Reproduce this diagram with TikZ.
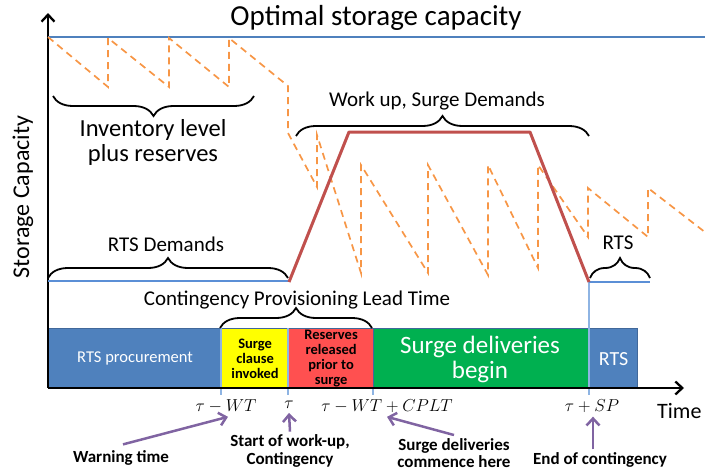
\documentclass[tikz,border=0pt]{standalone}
\usepackage{fontspec}
\setmainfont{Carlito}
\usetikzlibrary{decorations.pathreplacing,arrows.meta}
\definecolor{optblue}{HTML}{4F81BD}
\definecolor{rtsblue}{HTML}{5B8FD6}
\definecolor{tickblue}{HTML}{8EB4E3}
\definecolor{orng}{HTML}{F79646}
\definecolor{redline}{HTML}{C0504D}
\definecolor{purp}{HTML}{8064A2}
\definecolor{barblue}{HTML}{4F81BD}
\definecolor{barborder}{HTML}{41689A}
\definecolor{yel}{HTML}{FFFF00}
\definecolor{redbox}{HTML}{FF5050}
\definecolor{grn}{HTML}{00B050}
\begin{document}
\begin{tikzpicture}[x=1pt,y=-1pt,
  bigtxt/.style={font=\fontsize{21}{25}\selectfont, inner sep=0pt, align=center},
  boxtxt/.style={font=\bfseries\fontsize{14.5}{15}\selectfont, inner sep=0pt, align=center},
  botlbl/.style={font=\bfseries\fontsize{17}{17.5}\selectfont, inner sep=0pt, align=center},
  mathlbl/.style={font=\fontsize{18}{20}\selectfont, inner sep=0pt},
  barbox/.style={draw=barborder, line width=1.2pt, anchor=north west, minimum height=60pt, inner sep=0pt},
  bracestyle/.style={decorate, decoration={brace, amplitude=20pt}, line width=1.8pt},
  orangedash/.style={orng, line width=1.7pt, dash pattern=on 7pt off 5pt},
  purparrow/.style={purp, line width=2.5pt, -{Straight Barb[length=7pt,width=13pt]}},
  tickline/.style={tickblue, line width=1.8pt},
  axisline/.style={line width=2.3pt, -{Straight Barb[length=7pt,width=13pt]}}
]
\useasboundingbox (0,0) rectangle (705,471);

% bar
\node[barbox, fill=barblue, minimum width=173pt] (proc) at (48,328) {};
\node[barbox, fill=yel, minimum width=67pt] (surgecl) at (221,328) {};
\node[barbox, fill=redbox, minimum width=85pt] (resv) at (288,328) {};
\node[barbox, fill=grn, minimum width=216pt] (deliv) at (373,328) {};
\node[barbox, fill=barblue, minimum width=48pt] (rtsbox) at (589,328) {};
\node[white, font=\fontsize{16.5}{19}\selectfont, inner sep=0pt] (proct) at (proc.center) {RTS procurement};
\node[boxtxt] (surget) at (surgecl.center) {Surge\\clause\\invoked};
\node[boxtxt] (resvt) at (resv.center) {Reserves\\released\\prior to\\surge};
\node[white, font=\fontsize{25}{25}\selectfont, inner sep=0pt, align=center] (delivt) at (480,359) {Surge deliveries\\begin};
\node[white, font=\fontsize{20}{22}\selectfont, inner sep=0pt] (rtsboxt) at (rtsbox.center) {RTS};

% ticks
\coordinate (k1a) at (221,328); \coordinate (k1b) at (221,395);
\coordinate (k2a) at (288,328); \coordinate (k2b) at (288,395);
\coordinate (k3a) at (373,388); \coordinate (k3b) at (373,395);
\coordinate (k4a) at (589,282); \coordinate (k4b) at (589,395);
\draw[tickline] (k1a) -- (k1b);
\draw[tickline] (k2a) -- (k2b);
\draw[tickline] (k3a) -- (k3b);
\draw[tickblue, line width=1.2pt] (k4a) -- (k4b);

% axes
\coordinate (org) at (48,388);
\coordinate (ytop) at (48,13);
\coordinate (xend) at (684,388);
\draw[axisline] (org) -- (ytop);
\draw[axisline] (org) -- (xend);

% optimal line
\coordinate (opa) at (48,37); \coordinate (opb) at (705,37);
\draw[optblue, line width=2.5pt] (opa) -- (opb);

% orange sawtooth
\draw[orangedash] (48,37) -- (108,87) -- (108,38) -- (169,87) -- (169,38) -- (229,87) -- (229,38)
  -- (288,86) -- (288,133) -- (317,187) -- (317,135) -- (361,273) -- (361,165) -- (428,273) -- (428,165)
  -- (488,275) -- (488,165) -- (538,268) -- (538,165) -- (588,237) -- (588,188) -- (648,237) -- (648,188) -- (710,236);

% RTS lines
\coordinate (r1a) at (48,281); \coordinate (r1b) at (289,281);
\coordinate (r2a) at (589,282); \coordinate (r2b) at (650,282);
\draw[rtsblue, line width=2.5pt] (r1a) -- (r1b);
\draw[rtsblue, line width=2.5pt] (r2a) -- (r2b);

% red trapezoid
\coordinate (t1) at (289,282); \coordinate (t2) at (349,132);
\coordinate (t3) at (530,132); \coordinate (t4) at (589,282);
\draw[redline, line width=3pt, line join=round] (t1) -- (t2) -- (t3) -- (t4);

% braces
\draw[bracestyle] (254,96) -- (53,96);
\draw[bracestyle] (296,136) -- (589,136);
\draw[bracestyle] (48,278) -- (288,278);
\draw[bracestyle] (590,278) -- (650,278);
\draw[bracestyle] (220,328) -- (372,328);

% texts
\node[font=\fontsize{29}{32}\selectfont, inner sep=0pt] (opt) at (376,18) {Optimal storage capacity};
\node[font=\fontsize{24.5}{25}\selectfont, inner sep=0pt, align=center] (inv) at (153,142) {Inventory level\\plus reserves};
\node[bigtxt] (work) at (437,101) {Work up, Surge Demands};
\node[bigtxt] (rtsd) at (166,244) {RTS Demands};
\node[bigtxt] (rtsr) at (618,243) {RTS};
\node[bigtxt] (cplt) at (297,300) {Contingency Provisioning Lead Time};
\node[font=\fontsize{24}{26}\selectfont, inner sep=0pt, rotate=90] (ylab) at (23,197) {Storage Capacity};
\node[font=\fontsize{22}{24}\selectfont, inner sep=0pt, anchor=west] (time) at (657,411) {Time};

% math labels
\node[mathlbl] (tmwt) at (226,406) {$\tau - WT$};
\node[mathlbl] (tau) at (289,405) {$\tau$};
\node[mathlbl] (tcplt) at (387,406) {$\tau - WT + CPLT$};
\node[mathlbl] (tsp) at (592,406) {$\tau + SP$};

% bottom labels
\node[botlbl] (warn) at (121,458) {Warning time};
\node[botlbl] (start) at (290,451) {Start of work-up,\\Contingency};
\node[botlbl] (comm) at (454,453) {Surge deliveries\\commence here};
\node[botlbl] (endc) at (600,460) {End of contingency};

% purple arrows
\draw[purparrow] ([xshift=2pt,yshift=6pt]warn.north) -- ([xshift=2pt,yshift=-4pt]tmwt.south);
\draw[purparrow] ([yshift=3pt]start.north) -- ([yshift=-4pt]tau.south);
\draw[purparrow] ([yshift=3pt]comm.north) -- ([yshift=-4pt]tcplt.south);
\draw[purparrow] ([xshift=-7pt,yshift=3pt]endc.north) -- ([xshift=1pt,yshift=-4pt]tsp.south);
\end{tikzpicture}
\end{document}
